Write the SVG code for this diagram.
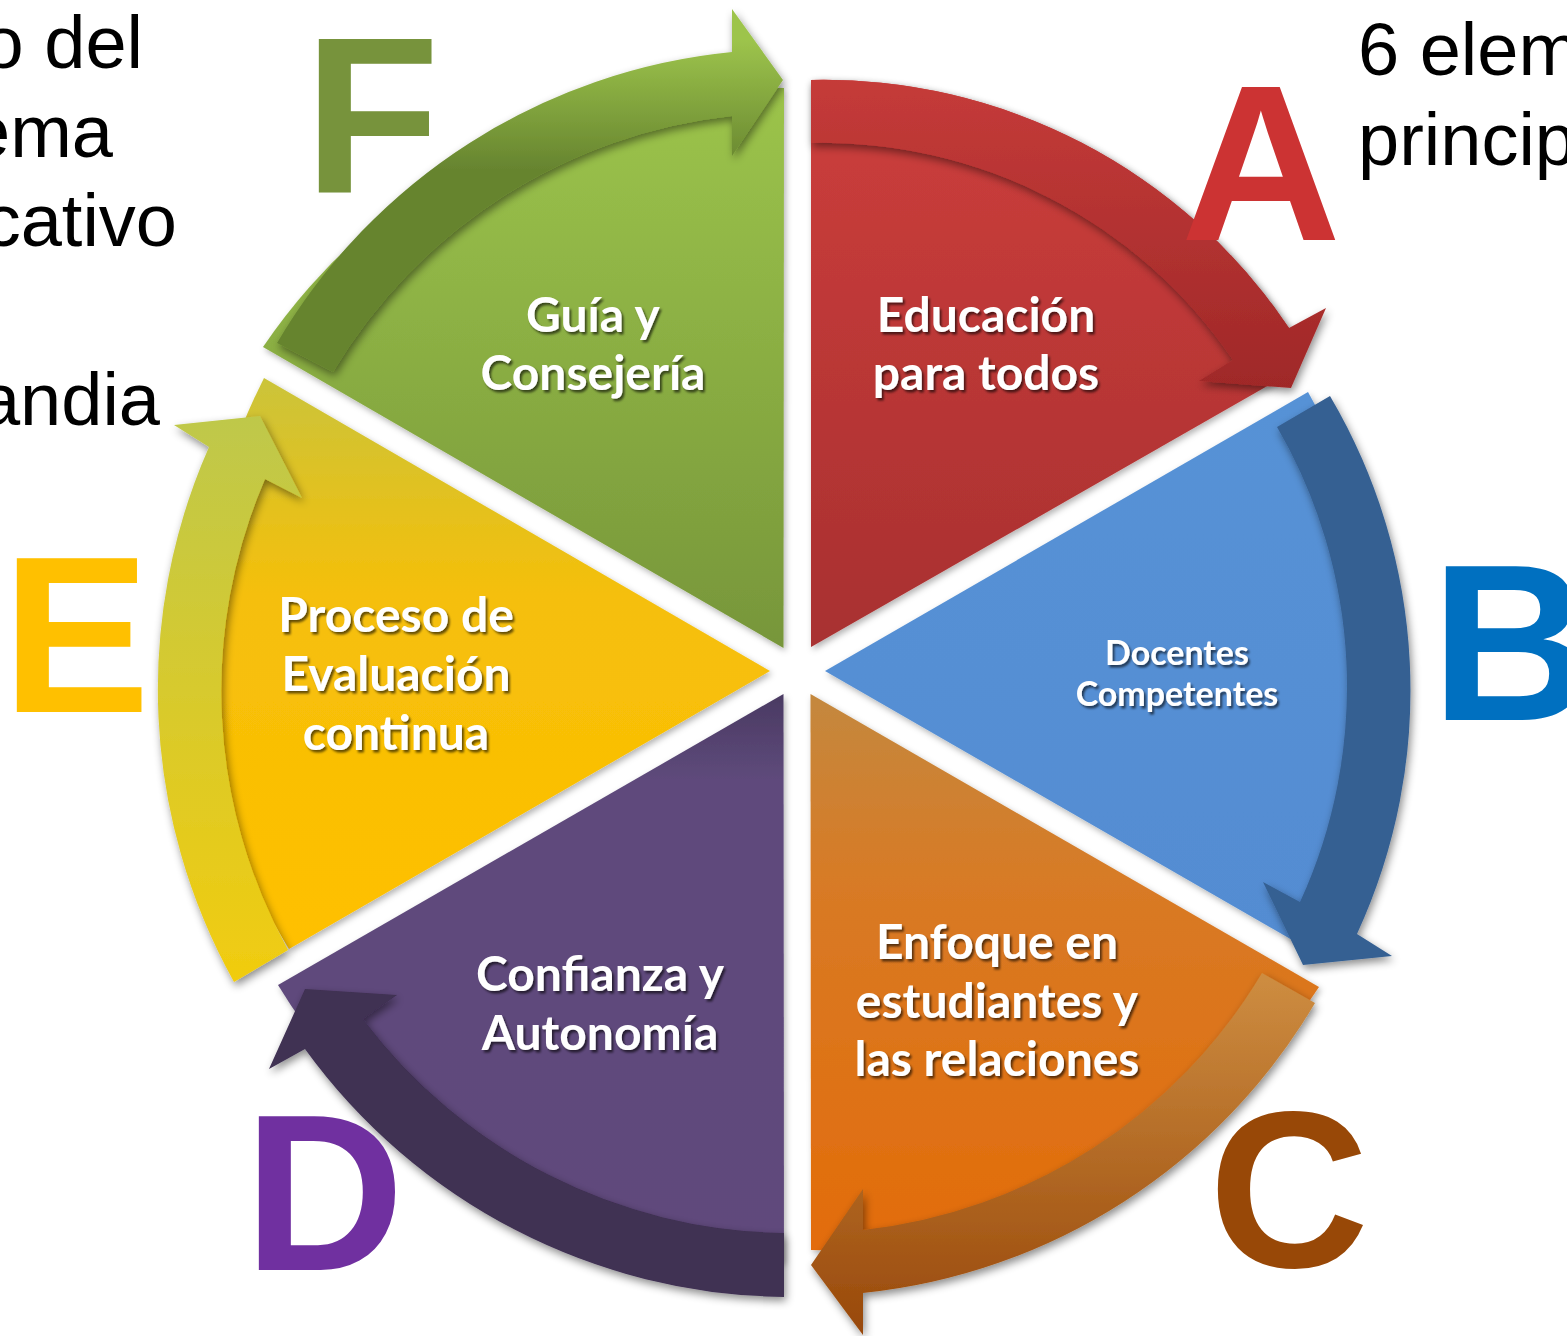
<svg xmlns="http://www.w3.org/2000/svg" width="1567" height="1336" viewBox="0 0 1567 1336">
<defs>
  <style>
    .lbl{font-family:Lato,"Open Sans","Noto Sans",sans-serif;font-weight:700;fill:#fff;text-anchor:middle;}
    .big{font-size:48px;}
    .small{font-size:34px;}
    .letter{font-family:"Liberation Sans",Arial,sans-serif;font-weight:700;font-size:222px;}
    .side{font-family:"Liberation Sans",Arial,sans-serif;font-size:74px;fill:#000;}
  </style>
  <filter id="ps" x="-10%" y="-10%" width="125%" height="125%">
    <feDropShadow dx="2" dy="3" stdDeviation="3" flood-color="#000" flood-opacity="0.3"/>
  </filter>
  <filter id="as" x="-10%" y="-10%" width="125%" height="125%">
    <feDropShadow dx="2" dy="4" stdDeviation="4" flood-color="#000" flood-opacity="0.45"/>
  </filter>
  <filter id="ts" x="-10%" y="-20%" width="125%" height="150%">
    <feDropShadow dx="2" dy="2.5" stdDeviation="1.3" flood-color="#000" flood-opacity="0.6"/>
  </filter>
  <linearGradient id="gA" x1="0" y1="0" x2="0" y2="1"><stop offset="0" stop-color="#CD3E3C"/><stop offset="1" stop-color="#A83030"/></linearGradient>
  <linearGradient id="gB" x1="0" y1="0" x2="0" y2="1"><stop offset="0" stop-color="#5792D6"/><stop offset="1" stop-color="#538CD2"/></linearGradient>
  <linearGradient id="gC" x1="0" y1="0" x2="0" y2="1"><stop offset="0" stop-color="#C4883E"/><stop offset="0.35" stop-color="#D87A25"/><stop offset="1" stop-color="#E36C0A"/></linearGradient>
  <linearGradient id="gD" x1="0" y1="0" x2="0" y2="1"><stop offset="0" stop-color="#4A3A62"/><stop offset="0.15" stop-color="#5E4A7B"/><stop offset="1" stop-color="#604A7B"/></linearGradient>
  <linearGradient id="gE" x1="0" y1="0" x2="0" y2="1"><stop offset="0" stop-color="#CBC43A"/><stop offset="0.38" stop-color="#F5BF0A"/><stop offset="1" stop-color="#FFC000"/></linearGradient>
  <linearGradient id="gF" x1="0" y1="0" x2="0" y2="1"><stop offset="0" stop-color="#9CC44B"/><stop offset="1" stop-color="#77963A"/></linearGradient>
  <linearGradient id="aA" gradientUnits="userSpaceOnUse" x1="0" y1="80" x2="0" y2="390"><stop offset="0" stop-color="#C53B39"/><stop offset="1" stop-color="#9F2828"/></linearGradient>
  <linearGradient id="aC" gradientUnits="userSpaceOnUse" x1="0" y1="980" x2="0" y2="1335"><stop offset="0" stop-color="#CD8C40"/><stop offset="1" stop-color="#98480A"/></linearGradient>
  <linearGradient id="aE" gradientUnits="userSpaceOnUse" x1="0" y1="410" x2="0" y2="990"><stop offset="0" stop-color="#BEC84B"/><stop offset="1" stop-color="#F2CC0E"/></linearGradient>
  <linearGradient id="aF" gradientUnits="userSpaceOnUse" x1="0" y1="40" x2="0" y2="170"><stop offset="0" stop-color="#9DC44C"/><stop offset="1" stop-color="#66842F"/></linearGradient>
</defs>
<rect x="0" y="0" width="1567" height="1336" fill="#fff"/>

<g id="side-text" class="side">
  <text x="143" y="68" text-anchor="end">o del</text>
  <text x="113" y="157" text-anchor="end">ema</text>
  <text x="177" y="246" text-anchor="end">cativo</text>
  <text x="160" y="425" text-anchor="end">andia</text>
  <text x="1358" y="75">6 elem</text>
  <text x="1358" y="165">princip</text>
</g>

<g id="pies" filter="url(#ps)">
  <path id="pie-A" d="M811,647 L811,80 A560,560 0 0 1 1289,328 L1292,372 Z" fill="url(#gA)"/>
  <path id="pie-B" d="M825,671 L1308,392 A560,560 0 0 1 1306,948 Z" fill="url(#gB)"/>
  <path id="pie-C" d="M810.5,694 L1319,987 A580,580 0 0 1 811,1250 Z" fill="url(#gC)"/>
  <path id="pie-D" d="M783.5,694 L784,1262 A575,575 0 0 1 278,985 Z" fill="url(#gD)"/>
  <path id="pie-E" d="M770,671 L289,949 A580,580 0 0 1 264,378 Z" fill="url(#gE)"/>
  <path id="pie-F" d="M783.5,648 L263,347 A590,590 0 0 1 784,88 Z" fill="url(#gF)"/>
</g>

<g id="connectors" filter="url(#as)">
  <path id="arrow-A" d="M811,80 A560,560 0 0 1 1289,328 L1326,308 L1291,388 L1199,381 L1233,360 A497,497 0 0 0 811,143 Z" fill="url(#aA)"/>
  <path id="arrow-B" d="M1330,396 A580,580 0 0 1 1357,934 L1392,956 L1303,965 L1263,882 L1300,902 A517,517 0 0 0 1277,427 Z" fill="#366092"/>
  <path id="arrow-C" d="M1315,1003 A595,595 0 0 1 863,1293 L863,1335 L811,1265 L863,1189 L863,1230 A533,533 0 0 0 1262,973 Z" fill="url(#aC)"/>
  <path id="arrow-D" d="M784,1297 A600,600 0 0 1 305,1049 L269,1069 L305,989 L397,995 L363,1019 A536,536 0 0 0 784,1233 Z" fill="#3F3052"/>
  <path id="arrow-E" d="M234,982 A600,600 0 0 1 209,447 L174,425 L260,416 L302,498 L265,479 A536,536 0 0 0 288,950 Z" fill="url(#aE)"/>
  <path id="arrow-F" d="M277,343 A595,595 0 0 1 732,52 L732,9 L783,80 L732,156 L732,116 A531,531 0 0 0 333,372 Z" fill="url(#aF)"/>
</g>

<g id="node-A" class="lbl big" filter="url(#ts)">
  <text x="986" y="332">Educación</text>
  <text x="986" y="390">para todos</text>
</g>
<g id="node-B" class="lbl small" filter="url(#ts)">
  <text x="1177" y="665">Docentes</text>
  <text x="1177" y="706">Competentes</text>
</g>
<g id="node-C" class="lbl big" filter="url(#ts)">
  <text x="997" y="959">Enfoque en</text>
  <text x="997" y="1018">estudiantes y</text>
  <text x="997" y="1076">las relaciones</text>
</g>
<g id="node-D" class="lbl big" filter="url(#ts)">
  <text x="600" y="991">Confianza y</text>
  <text x="600" y="1050">Autonomía</text>
</g>
<g id="node-E" class="lbl big" filter="url(#ts)">
  <text x="396" y="632">Proceso de</text>
  <text x="396" y="691">Evaluación</text>
  <text x="396" y="750">continua</text>
</g>
<g id="node-F" class="lbl big" filter="url(#ts)">
  <text x="593" y="332">Guía y</text>
  <text x="593" y="390">Consejería</text>
</g>

<g id="letters" class="letter">
  <text id="letter-A" x="1261" y="240" text-anchor="middle" fill="#CC3333">A</text>
  <text id="letter-B" x="1431" y="720" fill="#0070C0">B</text>
  <text id="letter-C" x="1289" y="1267" text-anchor="middle" fill="#984807">C</text>
  <text id="letter-D" x="244" y="1270" fill="#7030A0">D</text>
  <text id="letter-E" x="2" y="712" fill="#FFC000">E</text>
  <text id="letter-F" x="304" y="192" fill="#77933C">F</text>
</g>
</svg>
